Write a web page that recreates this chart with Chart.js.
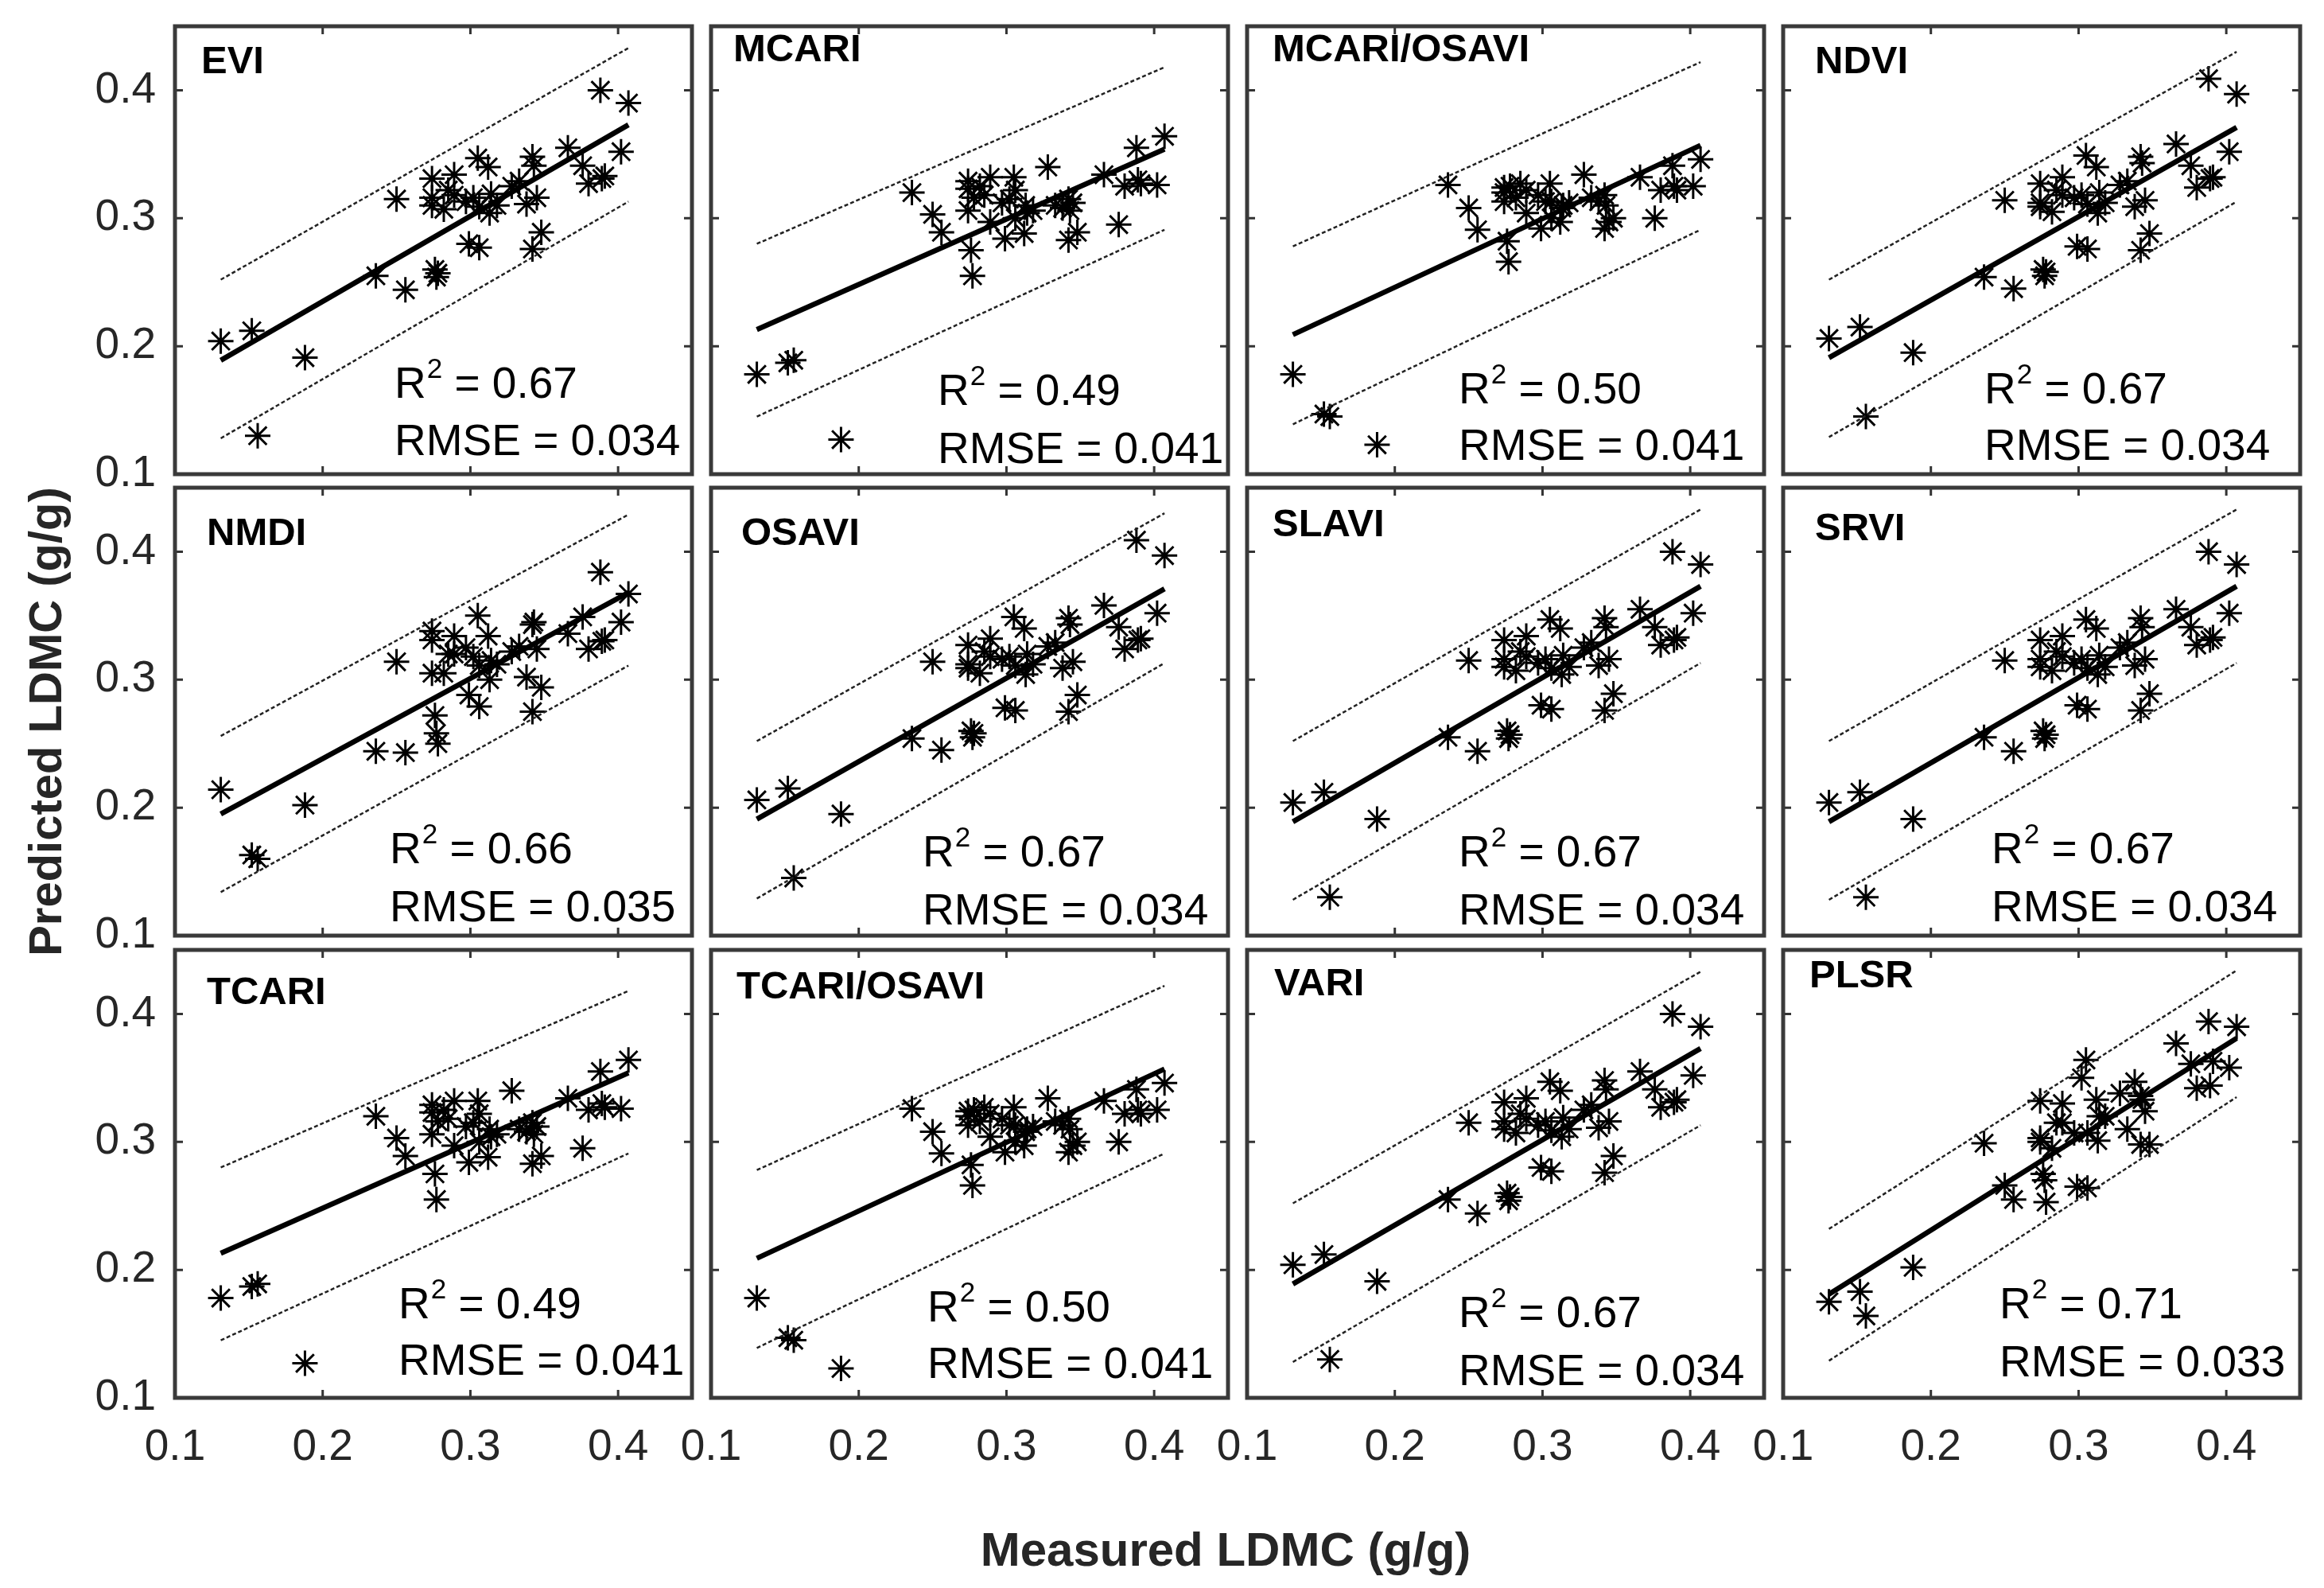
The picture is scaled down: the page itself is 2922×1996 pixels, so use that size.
<!DOCTYPE html>
<html>
<head>
<meta charset="utf-8">
<title>LDMC predicted vs measured</title>
<script src="https://cdn.jsdelivr.net/npm/chart.js@4.4.1/dist/chart.umd.min.js"></script>
<style>
  body { margin: 0; background: #fff; width: 2922px; height: 1996px; position: relative; overflow: hidden;
         font-family: "Liberation Sans", Arial, sans-serif; }
  canvas { position: absolute; }
  .axis-title { position: absolute; font-weight: bold; font-size: 60px; color: #262626; white-space: nowrap;
                transform: translate(-50%, -50%); }
  #ytitle { transform: translate(-50%, -50%) rotate(-90deg); font-size: 58px; }
</style>
</head>
<body>
<div id="xtitle" class="axis-title" style="left:1541px; top:1947px;">Measured LDMC (g/g)</div>
<div id="ytitle" class="axis-title" style="left:56px; top:907px;">Predicted LDMC (g/g)</div>
<script>
// measured LDMC (same samples in every panel)
const measured = [0.131, 0.152, 0.156, 0.188, 0.236, 0.250, 0.256, 0.274, 0.274, 0.274, 0.276, 0.277, 0.278, 0.282, 0.285,
  0.289, 0.289, 0.297, 0.299, 0.302, 0.305, 0.306, 0.306, 0.312, 0.313, 0.314, 0.318, 0.328, 0.333, 0.338, 0.342,
  0.343, 0.342, 0.345, 0.348, 0.366, 0.376, 0.380, 0.389, 0.391, 0.388, 0.407, 0.402];

// predicted LDMC per model
const eviPred = [0.204, 0.212, 0.130, 0.191, 0.255, 0.315, 0.244, 0.331, 0.316, 0.310, 0.260, 0.254, 0.257, 0.307, 0.322,
  0.334, 0.318, 0.313, 0.280, 0.316, 0.347, 0.309, 0.277, 0.340, 0.304, 0.319, 0.310, 0.325, 0.329, 0.311, 0.348,
  0.341, 0.276, 0.316, 0.289, 0.355, 0.341, 0.327, 0.331, 0.333, 0.400, 0.390, 0.352];
const mcariPred = [0.178, 0.187, 0.189, 0.127, 0.320, 0.303, 0.289, 0.323, 0.329, 0.306, 0.275, 0.255, 0.316, 0.325, 0.318,
  0.332, 0.297, 0.312, 0.284, 0.315, 0.332, 0.322, 0.300, 0.288, 0.310, 0.304, 0.306, 0.340, 0.310, 0.308, 0.315,
  0.306, 0.283, 0.312, 0.289, 0.334, 0.295, 0.325, 0.330, 0.327, 0.355, 0.364, 0.326];
const mcariOsaviPred = [0.178, 0.147, 0.145, 0.123, 0.326, 0.308, 0.291, 0.324, 0.313, 0.320, 0.282, 0.266, 0.325, 0.316, 0.327,
  0.322, 0.304, 0.318, 0.292, 0.313, 0.327, 0.313, 0.300, 0.297, 0.308, 0.310, 0.312, 0.334, 0.316, 0.313, 0.318,
  0.310, 0.292, 0.297, 0.300, 0.332, 0.300, 0.322, 0.325, 0.322, 0.341, 0.346, 0.325];
const ndviPred = [0.206, 0.215, 0.145, 0.195, 0.254, 0.314, 0.245, 0.327, 0.312, 0.309, 0.260, 0.255, 0.258, 0.305, 0.322,
  0.332, 0.318, 0.316, 0.278, 0.318, 0.349, 0.311, 0.276, 0.340, 0.304, 0.320, 0.312, 0.326, 0.329, 0.309, 0.348,
  0.343, 0.275, 0.314, 0.288, 0.358, 0.341, 0.324, 0.331, 0.332, 0.409, 0.397, 0.352];
const nmdiPred = [0.214, 0.163, 0.160, 0.202, 0.244, 0.314, 0.243, 0.338, 0.331, 0.305, 0.272, 0.258, 0.250, 0.305, 0.320,
  0.334, 0.320, 0.325, 0.288, 0.318, 0.350, 0.311, 0.279, 0.334, 0.300, 0.315, 0.312, 0.322, 0.326, 0.302, 0.343,
  0.345, 0.275, 0.324, 0.294, 0.336, 0.349, 0.324, 0.330, 0.331, 0.384, 0.367, 0.345];
const plsrPred = [0.175, 0.183, 0.164, 0.202, 0.299, 0.266, 0.255, 0.332, 0.300, 0.303, 0.275, 0.270, 0.253, 0.295, 0.315,
  0.330, 0.315, 0.307, 0.265, 0.350, 0.364, 0.307, 0.264, 0.333, 0.301, 0.320, 0.320, 0.338, 0.310, 0.347, 0.336,
  0.333, 0.298, 0.324, 0.298, 0.377, 0.361, 0.342, 0.344, 0.363, 0.394, 0.390, 0.358];

// fitted line and prediction bounds, y at lineX ends
const lineX = [0.131, 0.407];
const eviFit = [0.189, 0.373], eviUpper = [0.252, 0.433], eviLower = [0.128, 0.313];
const mcariFit = [0.213, 0.354], mcariUpper = [0.280, 0.418], mcariLower = [0.145, 0.291];
const mcariOsaviFit = [0.209, 0.357], mcariOsaviUpper = [0.278, 0.422], mcariOsaviLower = [0.139, 0.291];
const ndviFit = [0.191, 0.371], ndviUpper = [0.252, 0.430], ndviLower = [0.129, 0.313];
const nmdiFit = [0.195, 0.368], nmdiUpper = [0.256, 0.429], nmdiLower = [0.134, 0.311];
const plsrFit = [0.181, 0.381], plsrUpper = [0.232, 0.434], plsrLower = [0.129, 0.335];

const panelNames = ['EVI', 'MCARI', 'MCARI/OSAVI', 'NDVI', 'NMDI', 'OSAVI', 'SLAVI', 'SRVI', 'TCARI', 'TCARI/OSAVI', 'VARI', 'PLSR'];
const r2Values = ['0.67', '0.49', '0.50', '0.67', '0.66', '0.67', '0.67', '0.67', '0.49', '0.50', '0.67', '0.71'];
const rmseValues = ['0.034', '0.041', '0.041', '0.034', '0.035', '0.034', '0.034', '0.034', '0.041', '0.041', '0.034', '0.033'];
const axisTicks = [0.1, 0.2, 0.3, 0.4];

const evi = { pred: eviPred, fit: eviFit, upper: eviUpper, lower: eviLower };
const mcari = { pred: mcariPred, fit: mcariFit, upper: mcariUpper, lower: mcariLower };
const mcariOsavi = { pred: mcariOsaviPred, fit: mcariOsaviFit, upper: mcariOsaviUpper, lower: mcariOsaviLower };
const ndvi = { pred: ndviPred, fit: ndviFit, upper: ndviUpper, lower: ndviLower };
const nmdi = { pred: nmdiPred, fit: nmdiFit, upper: nmdiUpper, lower: nmdiLower };
const plsr = { pred: plsrPred, fit: plsrFit, upper: plsrUpper, lower: plsrLower };
const panelModels = [evi, mcari, mcariOsavi, ndvi, nmdi, ndvi, evi, evi, mcari, mcariOsavi, evi, plsr];

// layout (px)
const colLeft = [220, 894, 1568, 2242];
const rowTop = [33, 613, 1194];
const frameW = 650, frameH = 563;
const padL = 150, padR = 20, padT = 20, padB = 110;
// per panel label placement: [titleDx, titleCy, statDx, r2Base, rmseBase]
const labelPos = [
  [33, 45, 276, 467, 539], [28, 30, 285, 476, 549], [32, 30, 266, 474, 545], [40, 45, 253, 474, 545],
  [40, 58, 270, 472, 545], [38, 58, 266, 476, 549], [32, 47, 266, 476, 549], [40, 52, 262, 472, 545],
  [40, 54, 281, 463, 534], [32, 47, 272, 467, 538], [34, 43, 266, 474, 547], [33, 33, 272, 463, 536]
];

const font = '"Liberation Sans", Arial, sans-serif';

const panelDecor = {
  id: 'panelDecor',
  afterDatasetsDraw(chart, args, opts) {
    const ctx = chart.ctx;
    const a = chart.chartArea;
    const xs = chart.scales.x, ys = chart.scales.y;
    ctx.save();
    // inward tick marks on all four sides
    ctx.strokeStyle = '#333';
    ctx.lineWidth = 3;
    ctx.beginPath();
    axisTicks.forEach(v => {
      const px = xs.getPixelForValue(v);
      ctx.moveTo(px, a.bottom); ctx.lineTo(px, a.bottom - 10);
      ctx.moveTo(px, a.top); ctx.lineTo(px, a.top + 10);
      const py = ys.getPixelForValue(v);
      ctx.moveTo(a.left, py); ctx.lineTo(a.left + 10, py);
      ctx.moveTo(a.right, py); ctx.lineTo(a.right - 10, py);
    });
    ctx.stroke();
    // box
    ctx.strokeStyle = '#3a3a3a';
    ctx.lineWidth = 5;
    ctx.strokeRect(a.left, a.top, a.right - a.left, a.bottom - a.top);
    // texts
    const p = opts.pos;
    ctx.fillStyle = '#000';
    ctx.textBaseline = 'middle';
    ctx.textAlign = 'left';
    ctx.font = 'bold 49px ' + font;
    ctx.fillText(opts.name, a.left + p[0], a.top + p[1]);
    ctx.textBaseline = 'alphabetic';
    ctx.font = '55px ' + font;
    let x = a.left + p[2];
    ctx.fillText('R', x, a.top + p[3]);
    x += ctx.measureText('R').width;
    ctx.font = '35px ' + font;
    ctx.fillText('2', x + 1, a.top + p[3] - 25);
    x += ctx.measureText('2').width + 1;
    ctx.font = '55px ' + font;
    ctx.fillText(' = ' + opts.r2, x, a.top + p[3]);
    ctx.fillText('RMSE = ' + opts.rmse, a.left + p[2], a.top + p[4]);
    ctx.restore();
  }
};

function makeAxis(showLabels, isX) {
  return {
    type: 'linear',
    min: 0.1,
    max: 0.45,
    grid: { display: false, drawTicks: false },
    border: { display: false },
    afterBuildTicks: s => { s.ticks = axisTicks.map(v => ({ value: v })); },
    afterFit: s => {
      if (isX) s.height = padB; else s.width = padL;
      s.paddingLeft = s.paddingRight = s.paddingTop = s.paddingBottom = 0;
    },
    ticks: {
      display: showLabels,
      autoSkip: false,
      maxRotation: 0,
      padding: isX ? 30 : 24,
      color: '#262626',
      font: { family: font, size: 55 },
      callback: v => v.toFixed(1)
    }
  };
}

panelNames.forEach((name, i) => {
  const col = i % 4, row = Math.floor(i / 4);
  const model = panelModels[i];
  const canvas = document.createElement('canvas');
  const w = padL + frameW + padR, h = padT + frameH + padB;
  canvas.width = w; canvas.height = h;
  canvas.style.width = w + 'px'; canvas.style.height = h + 'px';
  canvas.style.left = (colLeft[col] - padL) + 'px';
  canvas.style.top = (rowTop[row] - padT) + 'px';
  document.body.appendChild(canvas);

  const linePts = ys => lineX.map((x, k) => ({ x: x, y: ys[k] }));

  new Chart(canvas.getContext('2d'), {
    type: 'scatter',
    data: {
      datasets: [{
        label: 'Observations',
        data: measured.map((x, k) => ({ x: x, y: model.pred[k] })),
        pointStyle: 'star',
        pointRadius: 16,
        pointBorderWidth: 3,
        borderColor: '#000',
        backgroundColor: '#000',
        order: 2
      },
      {
        label: 'Fit',
        type: 'line',
        data: linePts(model.fit),
        borderColor: '#000',
        borderWidth: 6.5,
        pointRadius: 0,
        order: 1
      },
      {
        label: 'Upper bound',
        type: 'line',
        data: linePts(model.upper),
        borderColor: '#222',
        borderWidth: 2.5,
        borderDash: [5, 3],
        pointRadius: 0,
        order: 1
      },
      {
        label: 'Lower bound',
        type: 'line',
        data: linePts(model.lower),
        borderColor: '#222',
        borderWidth: 2.5,
        borderDash: [5, 3],
        pointRadius: 0,
        order: 1
      }]
    },
    options: {
      responsive: false,
      maintainAspectRatio: false,
      devicePixelRatio: 1,
      animation: false,
      layout: { padding: { left: 0, right: padR, top: padT, bottom: 0 } },
      plugins: {
        legend: { display: false },
        tooltip: { enabled: false },
        panelDecor: { name: name, r2: r2Values[i], rmse: rmseValues[i], pos: labelPos[i] }
      },
      scales: {
        x: makeAxis(row === 2, true),
        y: makeAxis(col === 0, false)
      }
    },
    plugins: [panelDecor]
  });
});
</script>
</body>
</html>
